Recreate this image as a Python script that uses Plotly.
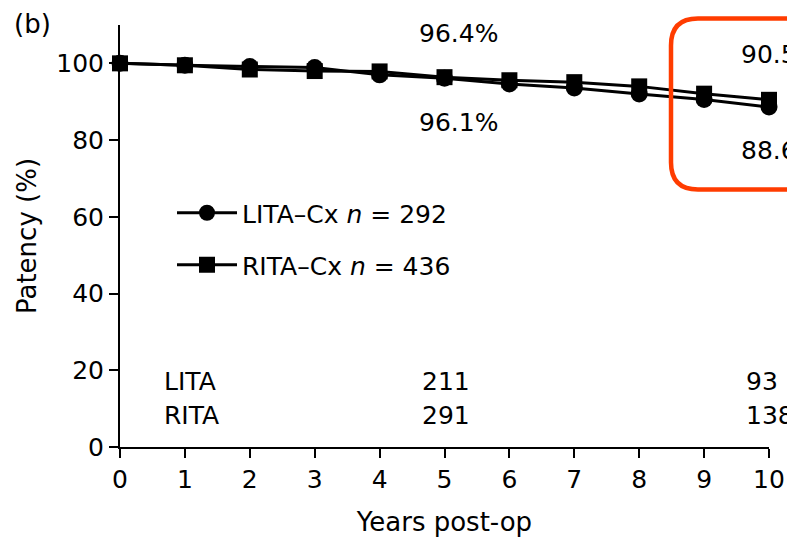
import plotly.graph_objects as go

# ---- data ----
years = [0, 1, 2, 3, 4, 5, 6, 7, 8, 9, 10]
lita_patency = [100, 99.5, 99.2, 98.9, 97.0, 96.1, 94.6, 93.6, 92.0, 90.6, 88.6]
rita_patency = [100, 99.5, 98.4, 98.0, 97.9, 96.4, 95.6, 95.1, 94.0, 92.1, 90.5]
lita_name = "LITA\u2013Cx <i>n</i> = 292"
rita_name = "RITA\u2013Cx <i>n</i> = 436"
risk_years = [5, 10]
lita_at_risk = [211, 93]
rita_at_risk = [291, 138]
pct_labels_top = ["96.4%", "90.5"]
pct_labels_bottom = ["96.1%", "88.6"]
x_ticks = list(range(0, 11))
y_ticks = [0, 20, 40, 60, 80, 100]

W, H = 787, 540
ML, MR, MT, MB = 120, 18, 25, 93
PW, PH = W - ML - MR, H - MT - MB
FONT = "DejaVu Sans, Liberation Sans, Arial, sans-serif"
FS = 25


def px2paper_x(px):
    return (px - ML) / PW


def px2paper_y(py):
    return (H - MB - py) / PH


fig = go.Figure()
fig.add_trace(go.Scatter(
    x=years, y=lita_patency, name=lita_name, mode="lines+markers",
    line=dict(color="black", width=3),
    marker=dict(symbol="circle", size=17, color="black"),
    legend="legend", cliponaxis=False,
))
fig.add_trace(go.Scatter(
    x=years, y=rita_patency, name=rita_name, mode="lines+markers",
    line=dict(color="black", width=3),
    marker=dict(symbol="square", size=16, color="black"),
    legend="legend2", cliponaxis=False,
))

annotations = []
# panel label
annotations.append(dict(text="(b)", xref="paper", yref="paper",
                        x=px2paper_x(12), y=px2paper_y(24), xanchor="left", yanchor="middle",
                        showarrow=False, font=dict(size=26)))
# percentage labels
annotations.append(dict(text=pct_labels_top[0], x=5.22, y=107.9, xanchor="center", yanchor="middle",
                        showarrow=False))
annotations.append(dict(text=pct_labels_bottom[0], x=5.22, y=84.7, xanchor="center", yanchor="middle",
                        showarrow=False))
annotations.append(dict(text=pct_labels_top[1], x=9.53, y=102.2, xanchor="left", yanchor="middle",
                        showarrow=False))
annotations.append(dict(text=pct_labels_bottom[1], x=9.53, y=77.4, xanchor="left", yanchor="middle",
                        showarrow=False))
# numbers at risk
annotations.append(dict(text="LITA", x=0.64, y=17.2, xanchor="left", yanchor="middle", showarrow=False))
annotations.append(dict(text="RITA", x=0.64, y=8.3, xanchor="left", yanchor="middle", showarrow=False))
for yr, ln, rn in zip(risk_years, lita_at_risk, rita_at_risk):
    if yr == 10:
        annotations.append(dict(text=str(ln), x=9.62, y=17.2, xanchor="left", yanchor="middle", showarrow=False))
        annotations.append(dict(text=str(rn), x=9.62, y=8.3, xanchor="left", yanchor="middle", showarrow=False))
    else:
        annotations.append(dict(text=str(ln), x=yr + 0.03, y=17.2, xanchor="center", yanchor="middle", showarrow=False))
        annotations.append(dict(text=str(rn), x=yr + 0.03, y=8.3, xanchor="center", yanchor="middle", showarrow=False))

# red rounded box (highlight)
x0 = px2paper_x(671)
x1 = px2paper_x(830)
yt = px2paper_y(18.5)
yb = px2paper_y(189.5)
rx = 27 / PW
ry = 27 / PH
path = (f"M {x0 + rx},{yt} L {x1},{yt} L {x1},{yb} L {x0 + rx},{yb} "
        f"Q {x0},{yb} {x0},{yb + ry} L {x0},{yt - ry} Q {x0},{yt} {x0 + rx},{yt} Z")

fig.update_layout(
    width=W, height=H,
    margin=dict(l=ML, r=MR, t=MT, b=MB, pad=0, autoexpand=False),
    paper_bgcolor="white", plot_bgcolor="white",
    font=dict(family=FONT, size=FS, color="black"),
    showlegend=True,
    annotations=annotations,
    shapes=[dict(type="path", path=path, xref="paper", yref="paper",
                 line=dict(color="#ff3c00", width=4.5), fillcolor="rgba(0,0,0,0)")],
    legend=dict(x=px2paper_x(172), y=px2paper_y(213), xanchor="left", yanchor="middle",
                bgcolor="rgba(0,0,0,0)", borderwidth=0, itemwidth=60,
                font=dict(family=FONT, size=FS, color="black")),
    legend2=dict(x=px2paper_x(172), y=px2paper_y(265), xanchor="left", yanchor="middle",
                 bgcolor="rgba(0,0,0,0)", borderwidth=0, itemwidth=60,
                 font=dict(family=FONT, size=FS, color="black")),
    xaxis=dict(range=[0, 10], tickvals=x_ticks, ticks="outside", ticklen=9, tickwidth=2,
               tickcolor="black", showline=True, linecolor="black", linewidth=2,
               showgrid=False, zeroline=False, fixedrange=True, automargin=False,
               title=dict(text="Years post-op", standoff=20, font=dict(size=26))),
    yaxis=dict(range=[0, 110], tickvals=y_ticks, ticks="outside", ticklen=9, tickwidth=2,
               tickcolor="black", showline=True, linecolor="black", linewidth=2,
               showgrid=False, zeroline=False, fixedrange=True, automargin=False,
               title=dict(text="Patency (%)", standoff=12, font=dict(size=26))),
)

fig.write_html("out.html", config={"displayModeBar": False, "staticPlot": True},
               post_script="document.body.style.margin='0';document.body.style.overflow='hidden';")
